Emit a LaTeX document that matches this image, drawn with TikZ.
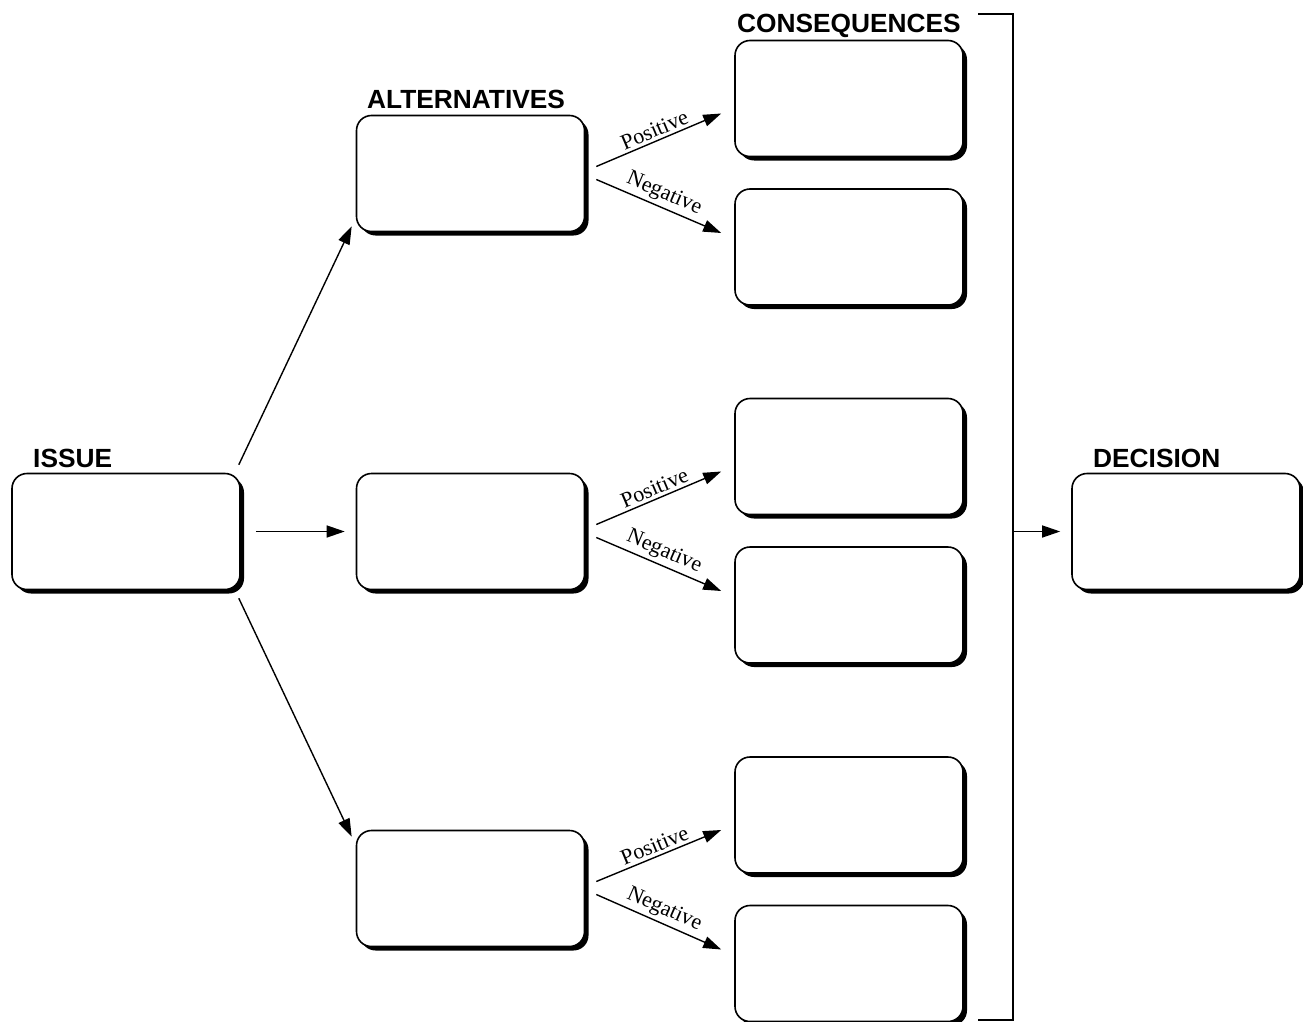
\documentclass[tikz,border=0pt]{standalone}
\usepackage{fontspec}
\setmainfont{Liberation Serif}
\newfontfamily\headfont{Liberation Sans}
\usetikzlibrary{arrows.meta,shadows}
\begin{document}
\begin{tikzpicture}[x=1pt,y=-1pt,
  box/.style={draw=black,line width=1.6pt,rounded corners=15pt,fill=white,
    minimum width=228pt,minimum height=116pt,inner sep=0pt,
    drop shadow={shadow xshift=4pt,shadow yshift=-4pt,fill=black,opacity=1}},
  head/.style={font=\headfont\bfseries\fontsize{26.3}{29}\selectfont,inner sep=0pt,anchor=base west},
  arr/.style={line width=1.4pt,-{Triangle[length=18pt,width=12pt]}},
  lab/.style={font=\fontsize{22}{24}\selectfont,sloped,above,inner sep=3pt,midway},
  brk/.style={line width=1.1pt}]
\useasboundingbox (0,0) rectangle (1303,1022);
% boxes
\node[box] (issue) at (126,531.5) {};
\node[box] (alt1) at (470.5,173.5) {};
\node[box] (alt2) at (470.5,531.5) {};
\node[box] (alt3) at (470.5,888.5) {};
\node[box] (c1) at (849,98.5) {};
\node[box] (c2) at (849,247) {};
\node[box] (c3) at (849,456.5) {};
\node[box] (c4) at (849,605) {};
\node[box] (c5) at (849,815) {};
\node[box] (c6) at (849,963.5) {};
\node[box] (dec) at (1186,531.5) {};
% headings
\node[head] (hissue) at (33,467) {ISSUE};
\node[head] (halt) at (367,109) {ALTERNATIVES};
\node[head] (hcons) at (737,33) {CONSEQUENCES};
\node[head] (hdec) at (1093,467) {DECISION};
% issue arrows
\draw[arr] ([shift={(-2,-8)}]issue.north east) -- ([shift={(-4,-6)}]alt1.south west);
\draw[arr] ([shift={(15,0)}]issue.east) -- ([shift={(-11,0)}]alt2.west);
\draw[arr] ([shift={(-2,8)}]issue.south east) -- ([shift={(-4,7)}]alt3.north west);
% consequence arrows
\foreach \a/\p/\n in {alt1/c1/c2,alt2/c3/c4,alt3/c5/c6}{
  \draw[arr] ([shift={(11,-7)}]\a.east) -- node[lab]{Positive} ([shift={(-13,15)}]\p.west);
  \draw[arr] ([shift={(11,6)}]\a.east) -- node[lab]{Negative} ([shift={(-13,-14)}]\n.west);
}
% bracket
\coordinate (bt) at (978,14);
\coordinate (btr) at (1013,14);
\coordinate (bbr) at (1013,1020);
\coordinate (bb) at (978,1020);
\coordinate (bm) at (1013,531.5);
\draw[brk] (bt) -- (btr) -- (bbr) -- (bb);
\draw[arr] (bm) -- ([shift={(-11,0)}]dec.west);
\end{tikzpicture}
\end{document}
